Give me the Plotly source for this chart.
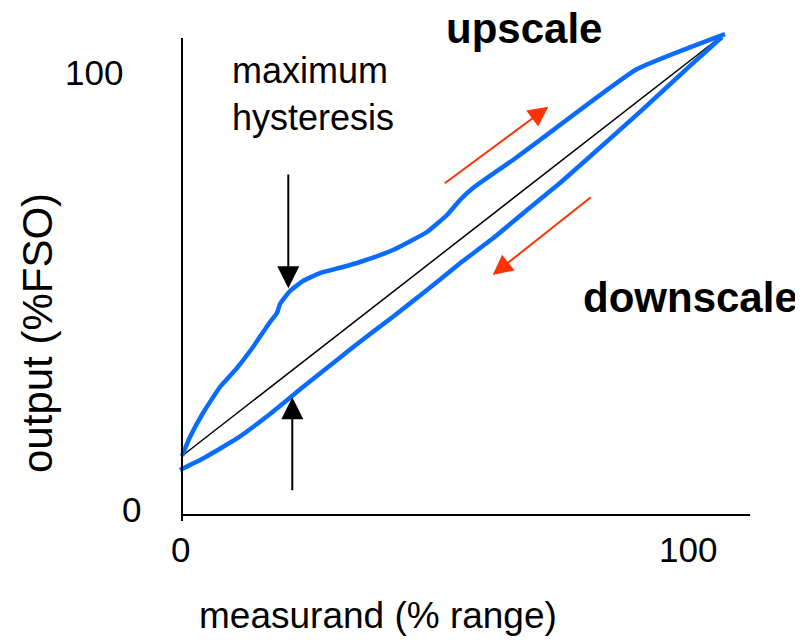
import plotly.graph_objects as go

# ---- data (measurand % range vs output %FSO) ----
upscale_x = [0.0, 1.58, 4.16, 7.52, 10.89, 14.06, 17.43, 18.81, 19.41, 21.39, 23.96, 27.33,
             31.88, 35.25, 41.78, 48.51, 52.48, 55.05, 57.62, 65.54, 70.89, 90.10, 107.52]
upscale_y = [13.35, 17.65, 23.08, 28.96, 33.26, 38.01, 43.67, 45.70, 47.74, 50.68, 52.94, 54.75,
             56.11, 57.24, 59.95, 64.03, 67.87, 71.27, 73.98, 80.32, 84.84, 100.90, 108.82]

downscale_x = [-0.40, 4.16, 10.89, 17.43, 23.96, 30.69, 35.25, 41.78, 48.51, 55.05, 61.58,
               68.32, 74.85, 80.79, 90.69, 100.59, 106.93]
downscale_y = [10.18, 12.78, 17.31, 22.85, 28.96, 35.07, 39.21, 44.86, 50.90, 56.95, 62.60,
               69.00, 75.11, 81.10, 91.20, 101.60, 108.14]

ideal_x = [0.0, 107.13]
ideal_y = [13.35, 108.60]

x_tick_vals = [0, 100]
x_tick_text = ["0", "100"]
y_tick_vals = [0, 100]
y_tick_text = ["0", "100"]

x_title = "measurand (% range)"
y_title = "output (%FSO)"

FONT = "Liberation Sans, Arial, sans-serif"
BLUE = "#0A6CFF"
RED = "#FF3300"

# page has an 8px body margin: figure occupies screen px 8..803 / 8..640
OFF = 8
W, H = 803 - OFF, 640 - OFF
SX, SY = 5.05, 4.42
X0, Y0 = 182 - OFF, 515 - OFF   # figure-pixel position of data origin
x_range = [-X0 / SX, (W - X0) / SX]
y_range = [(Y0 - H) / SY, Y0 / SY]


def dx(px):  # screen pixel -> data x
    return (px - OFF - X0) / SX


def dy(py):  # screen pixel -> data y
    return (Y0 - (py - OFF)) / SY


fig = go.Figure()
fig.add_trace(go.Scatter(x=ideal_x, y=ideal_y, mode="lines",
                         line=dict(color="black", width=1.5), hoverinfo="skip"))
fig.add_trace(go.Scatter(x=upscale_x, y=upscale_y, mode="lines",
                         line=dict(color=BLUE, width=4.5, shape="spline", smoothing=0.4),
                         name="upscale"))
fig.add_trace(go.Scatter(x=downscale_x, y=downscale_y, mode="lines",
                         line=dict(color=BLUE, width=4.5, shape="spline", smoothing=0.4),
                         name="downscale"))

shapes = [
    dict(type="line", xref="x", yref="y", x0=0, x1=0, y0=-1.36, y1=107.9,
         line=dict(color="black", width=2)),
    dict(type="line", xref="x", yref="y", x0=0, x1=112.5, y0=0, y1=0,
         line=dict(color="black", width=2)),
]

ann = []
# tick labels
for v, t in zip(x_tick_vals, x_tick_text):
    ann.append(dict(x=v, y=0, xref="x", yref="y", text=t, showarrow=False,
                    xanchor="center", yanchor="middle", yshift=-34,
                    xshift=-2 if v == 0 else 1,
                    font=dict(family=FONT, size=35, color="black")))
for v, t in zip(y_tick_vals, y_tick_text):
    ann.append(dict(x=0, y=v, xref="x", yref="y", text=t, showarrow=False,
                    xanchor="right", yanchor="middle",
                    xshift=-39 if v == 0 else -57, yshift=6 if v == 0 else 1,
                    font=dict(family=FONT, size=35, color="black")))
# axis titles
ann.append(dict(x=dx(378), y=dy(615), xref="x", yref="y", text=x_title,
                showarrow=False, xanchor="center", yanchor="middle",
                font=dict(family=FONT, size=37, color="black")))
ann.append(dict(x=dx(37), y=dy(333), xref="x", yref="y", text=y_title,
                showarrow=False, xanchor="center", yanchor="middle", textangle=-90,
                font=dict(family=FONT, size=42, color="black")))
# labels
ann.append(dict(x=dx(524), y=dy(28), xref="x", yref="y", text="<b>upscale</b>",
                showarrow=False, xanchor="center", yanchor="middle",
                font=dict(family=FONT, size=42, color="black")))
ann.append(dict(x=dx(690), y=dy(297), xref="x", yref="y", text="<b>downscale</b>",
                showarrow=False, xanchor="center", yanchor="middle",
                font=dict(family=FONT, size=42, color="black")))
ann.append(dict(x=dx(230), y=dy(94), xref="x", yref="y",
                text="maximum<br>hysteresis", align="left",
                showarrow=False, xanchor="left", yanchor="middle",
                font=dict(family=FONT, size=36, color="black")))


# arrows
def arrow(tail, tip, color, width, size):
    return dict(x=tip[0], y=tip[1], ax=tail[0], ay=tail[1], xref="x", yref="y",
                axref="x", ayref="y", text="", showarrow=True, arrowhead=2,
                arrowsize=size, arrowwidth=width, arrowcolor=color, standoff=0)


ann.append(arrow((21.05, 77.38), (21.05, 51.29), "black", 2, 2.2))
ann.append(arrow((21.84, 5.27), (21.84, 26.63), "black", 2, 2.2))
ann.append(arrow((51.74, 74.82), (72.53, 92.38), RED, 2, 2.0))
ann.append(arrow((81.25, 72.17), (61.52, 54.30), RED, 2, 2.0))

fig.update_layout(
    width=W, height=H, margin=dict(l=0, r=0, t=0, b=0),
    paper_bgcolor="white", plot_bgcolor="white", showlegend=False,
    xaxis=dict(range=x_range, visible=False, fixedrange=True),
    yaxis=dict(range=y_range, visible=False, fixedrange=True),
    shapes=shapes, annotations=ann,
)
fig.write_html("out.html")
